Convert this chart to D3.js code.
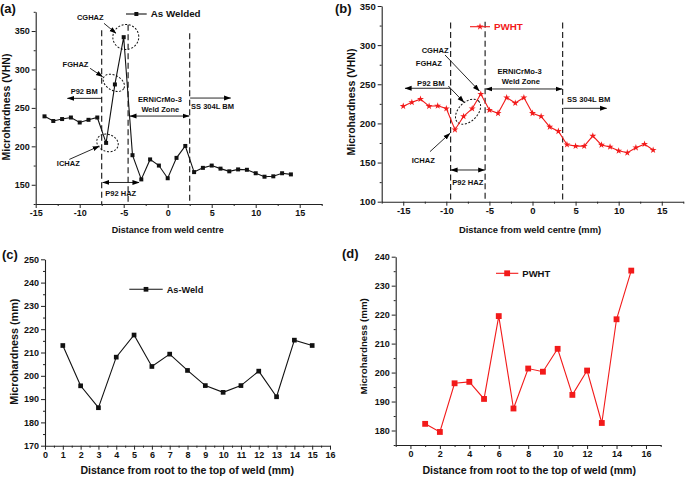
<!DOCTYPE html>
<html><head><meta charset="utf-8">
<script src="https://cdn.jsdelivr.net/npm/d3@7/dist/d3.min.js"></script>
<style>
body{margin:0;background:#fff;}
svg{display:block;font-family:"Liberation Sans",Arial,Helvetica,sans-serif;font-weight:bold;}
</style></head><body>
<svg id="chart" width="685" height="479"></svg>
<script>
// ---------- DATA ----------
const distA = [-14,-13,-12,-11,-10,-9,-8,-7,-6,-5,-4,-3,-2,-1,0,1,2,3,4,5,6,7,8,9,10,11,12,13,14];
const hardA = [239,233,235.5,237.5,231,234.5,237.5,204.5,280.5,342,188.5,157,183,175,158.5,185,200.5,166.5,172,175,171,167.5,170,169.5,165,160.5,161,165,163.5];

const distB = [-15,-14,-13,-12,-11,-10,-9,-8,-7,-6,-5,-4,-3,-2,-1,0,1,2,3,4,5,6,7,8,9,10,11,12,13,14];
const hardB = [222,227,231,222,222.5,219,192,209,219,237.5,217,213,233,226,233,213,209,195.5,190,173,171,171,184,172.5,170,165,162.5,169,173.5,166];

const posC = [1,2,3,4,5,6,7,8,9,10,11,12,13,14,15];
const hardC = [213,195.7,186.3,208,217.5,204,209.3,202.3,195.8,192.9,195.8,202,191,215.3,213];

const posD = [1,2,3,4,5,6,7,8,9,10,11,12,13,14,15];
const hardD = [182.3,179.5,196.3,196.8,190.9,219.5,187.6,201.4,200.3,208.2,192.3,200.7,182.6,218.4,235.2];

const xTicksA = [-15,-10,-5,0,5,10,15];
const yTicksA = [150,200,250,300,350];
const xTicksB = [-15,-10,-5,0,5,10,15];
const yTicksB = [100,150,200,250,300,350];
const xTicksC = [0,1,2,3,4,5,6,7,8,9,10,11,12,13,14,15,16];
const yTicksC = [170,180,190,200,210,220,230,240,250];
const xTicksD = [0,2,4,6,8,10,12,14,16];
const yTicksD = [180,190,200,210,220,230,240];

const labelsA = {legend:"As Welded", x:"Distance from weld centre", y:"Microhardness (VHN)", panel:"(a)"};
const labelsB = {legend:"PWHT", x:"Distance from weld centre (mm)", y:"Microhardness (VHN)", panel:"(b)"};
const labelsC = {legend:"As-Weld", x:"Distance from root to the top of weld (mm)", y:"Microhardness (mm)", panel:"(c)"};
const labelsD = {legend:"PWHT", x:"Distance from root to the top of weld (mm)", y:"Microhardness (mm)", panel:"(d)"};

// ---------- DRAWING ----------
const svg = d3.select("#chart");
const RED = "#f21a1a";
const defs = svg.append("defs");
defs.append("marker").attr("id","ah").attr("viewBox","0 0 10 10")
  .attr("refX",9.5).attr("refY",5).attr("markerWidth",7).attr("markerHeight",7)
  .attr("markerUnits","userSpaceOnUse")
  .attr("orient","auto-start-reverse")
  .append("path").attr("d","M0,1.5L10,5L0,8.5z").attr("fill","#000");

function mid(arr){ const r=[]; for(let i=0;i<arr.length-1;i++) r.push((arr[i]+arr[i+1])/2); return r; }

function axes(x, y, o){
  const g = svg.append("g");
  const yb = y.range()[0], xl = x.range()[0];
  const fmt = d => String(d);
  g.append("g").attr("transform",`translate(0,${yb})`)
    .call(d3.axisBottom(x).tickValues(o.xTicks).tickSize(4).tickSizeOuter(0).tickPadding(2).tickFormat(fmt));
  const xm = g.append("g").attr("transform",`translate(0,${yb})`)
    .call(d3.axisBottom(x).tickValues(o.xMinor).tickSize(2).tickSizeOuter(0).tickFormat(""));
  xm.select(".domain").remove();
  g.append("g").attr("transform",`translate(${xl},0)`)
    .call(d3.axisLeft(y).tickValues(o.yTicks).tickSize(4).tickSizeOuter(0).tickPadding(2).tickFormat(fmt));
  const ym = g.append("g").attr("transform",`translate(${xl},0)`)
    .call(d3.axisLeft(y).tickValues(o.yMinor).tickSize(2).tickSizeOuter(0).tickFormat(""));
  ym.select(".domain").remove();
  g.selectAll("path.domain").attr("stroke","#222").attr("stroke-width",1.1);
  g.selectAll(".tick line").attr("stroke","#222").attr("stroke-width",1);
  g.selectAll("text").attr("font-family",null).attr("font-size",o.tfs).attr("font-weight","bold").attr("fill","#111");
  svg.append("text").attr("x",o.xt[0]).attr("y",o.xt[1]).attr("text-anchor","middle")
    .attr("font-size",o.xfs).attr("fill","#111").text(o.lab.x);
  svg.append("text").attr("transform",`translate(${o.yt[0]},${o.yt[1]}) rotate(-90)`).attr("text-anchor","middle")
    .attr("font-size",o.yfs).attr("fill","#111").text(o.lab.y);
  svg.append("text").attr("x",o.pl[0]).attr("y",o.pl[1]).attr("font-size",o.pfs).attr("fill","#111").text(o.lab.panel);
}

function series(x, y, xs, ys, color, sym, size){
  const g = svg.append("g");
  const pts = xs.map((d,i)=>[d, ys[i]]);
  g.append("path").datum(pts)
    .attr("d", d3.line().x(d=>x(d[0])).y(d=>y(d[1])))
    .attr("fill","none").attr("stroke",color).attr("stroke-width",1.1);
  g.selectAll("path.m").data(pts).join("path").attr("class","m")
    .attr("transform",d=>`translate(${x(d[0])},${y(d[1])})`)
    .attr("d", d3.symbol().type(sym).size(size)).attr("fill",color);
}

function legend(x0, x1, yy, color, sym, size, text, fs, tcol){
  svg.append("line").attr("x1",x0).attr("x2",x1).attr("y1",yy).attr("y2",yy).attr("stroke",color).attr("stroke-width",1.1);
  svg.append("path").attr("transform",`translate(${(x0+x1)/2},${yy})`).attr("d",d3.symbol().type(sym).size(size)).attr("fill",color);
  svg.append("text").attr("x",x1+4).attr("y",yy+fs*0.35).attr("font-size",fs).attr("fill",tcol).text(text);
}

function annot(x, y, o){
  const g = svg.append("g");
  (o.vlines||[]).forEach(v=>{
    g.append("line").attr("x1",x(v[0])).attr("x2",x(v[0])).attr("y1",y(v[1])).attr("y2",y.range()[0])
      .attr("stroke","#111").attr("stroke-width",1.1).attr("stroke-dasharray","6,3.5");
  });
  (o.arrows||[]).forEach(a=>{
    const l = g.append("line").attr("x1",x(a[0])).attr("y1",y(a[1])).attr("x2",x(a[2])).attr("y2",y(a[3]))
      .attr("stroke","#111").attr("stroke-width",0.9).attr("marker-end","url(#ah)");
    if(a[4]) l.attr("marker-start","url(#ah)");
  });
  (o.ellipses||[]).forEach(e=>{
    g.append("ellipse").attr("cx",0).attr("cy",0).attr("rx",e[2]).attr("ry",e[3])
      .attr("transform",`translate(${x(e[0])},${y(e[1])}) rotate(${e[4]})`)
      .attr("fill","none").attr("stroke","#111").attr("stroke-width",1).attr("stroke-dasharray","2,1.6");
  });
  (o.texts||[]).forEach(t=>{
    g.append("text").attr("x",x(t[0])).attr("y",y(t[1])).attr("text-anchor","middle")
      .attr("font-size",o.fs).attr("fill","#111").text(t[2]);
  });
}

// ----- Panel (a) -----
{
  const x = d3.scaleLinear().domain([-15,17.5]).range([35.7,321.7]);
  const y = d3.scaleLinear().domain([125,375]).range([204,11.8]);
  axes(x,y,{xTicks:xTicksA, xMinor:mid(xTicksA).concat([17.5]), yTicks:yTicksA, yMinor:[125].concat(mid(yTicksA),[375]),
    tfs:9, xfs:9, yfs:10.5, lab:labelsA, xt:[167.8,233], yt:[10,107], pl:[0,13], pfs:13});
  annot(x,y,{fs:7.5,
    vlines:[[-7.5,351],[-4.5,358],[2.5,347]],
    arrows:[[-7.24,360,-5.87,347],[-8.82,301.5,-7.39,290.5],[-11.18,183,-7.77,200.3],
            [-7.5,262.4,-11.4,262.4],[-4.3,239.4,2.45,239.4,true],[2.55,262.8,7.16,262.8],[-7.4,153,-3.25,153,true]],
    ellipses:[[-4.76,342.2,13,12.5,-10],[-6.12,282.6,11.5,7.5,30],[-6.84,204.5,11,8.5,20]],
    texts:[[-8.8,364.5,"CGHAZ"],[-10.48,303.5,"FGHAZ"],[-11.3,174.3,"ICHAZ"],[-9.49,268,"P92 BM"],
           [-0.88,258,"ERNiCrMo-3"],[-0.84,245,"Weld Zone"],[5.09,248,"SS 304L BM"],[-5.34,135.3,"P92 HAZ"]]});
  series(x,y,distA,hardA,"#111",d3.symbolSquare,16);
  legend(126,146.7,14,"#111",d3.symbolSquare,16,labelsA.legend,9.8,"#111");
}

// ----- Panel (b) -----
{
  const x = d3.scaleLinear().domain([-17.5,17.5]).range([381.7,683.3]);
  const y = d3.scaleLinear().domain([100,350]).range([201.7,6]);
  axes(x,y,{xTicks:xTicksB, xMinor:[-17.5].concat(mid(xTicksB),[17.5]), yTicks:yTicksB, yMinor:mid(yTicksB),
    tfs:9.5, xfs:9.4, yfs:10.5, lab:labelsB, xt:[530,232.5], yt:[355,102], pl:[335,13], pfs:13});
  annot(x,y,{fs:7.6,
    vlines:[[-9.5,329],[-5.5,330],[3.5,329]],
    arrows:[[-10.15,287.4,-6.17,241.4],[-9.77,247.8,-7.95,227],[-11.9,163.9,-9.57,187.4],
            [-9.5,244.9,-14.8,244.9],[-5.43,244,3.45,244,true],[3.6,219.3,8.61,219.3],[-9.46,140.5,-5.53,140.5,true]],
    ellipses:[[-7.48,215,15,9.5,-45]],
    texts:[[-11.3,289.6,"CGHAZ"],[-12.03,273.4,"FGHAZ"],[-12.67,149,"ICHAZ"],[-11.8,247.8,"P92 BM"],
           [-1.5,263.1,"ERNiCrMo-3"],[-1.36,250.4,"Weld Zone"],[6.52,227.7,"SS 304L BM"],[-7.5,121.3,"P92 HAZ"]]});
  series(x,y,distB,hardB,RED,d3.symbolStar,15);
  legend(470,490,26.7,RED,d3.symbolStar,15,labelsB.legend,9.8,RED);
}

// ----- Panel (c) -----
{
  const x = d3.scaleLinear().domain([0,16]).range([45,330]);
  const y = d3.scaleLinear().domain([170,250]).range([445.7,259.3]);
  axes(x,y,{xTicks:xTicksC, xMinor:mid(xTicksC), yTicks:yTicksC, yMinor:mid(yTicksC),
    tfs:9, xfs:10.6, yfs:10.8, lab:labelsC, xt:[187.2,474], yt:[18,351.7], pl:[2,259], pfs:13});
  series(x,y,posC,hardC,"#111",d3.symbolSquare,22);
  legend(129.3,162.7,289.3,"#111",d3.symbolSquare,22,labelsC.legend,9.2,"#111");
}

// ----- Panel (d) -----
{
  const x = d3.scaleLinear().domain([-1,17]).range([395.7,660.7]);
  const y = d3.scaleLinear().domain([175,240]).range([445,256.7]);
  axes(x,y,{xTicks:xTicksD, xMinor:[-1].concat(mid(xTicksD),[17]), yTicks:yTicksD, yMinor:[175].concat(mid(yTicksD)),
    tfs:9, xfs:10.6, yfs:9.8, lab:labelsD, xt:[529.2,474], yt:[367,346.3], pl:[342,258], pfs:13});
  series(x,y,posD,hardD,RED,d3.symbolSquare,34);
  legend(496,518.3,273.3,RED,d3.symbolSquare,34,labelsD.legend,9.5,"#111");
}
</script>
</body></html>
